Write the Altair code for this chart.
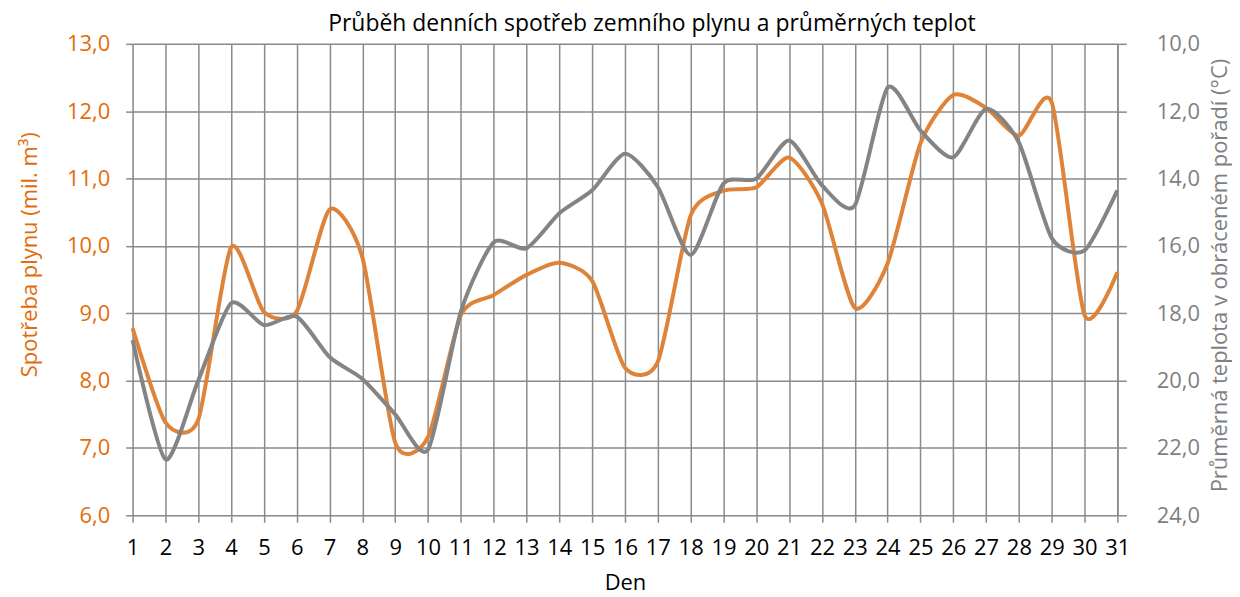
import altair as alt
import pandas as pd

days = list(range(1, 32))
gas = [8.78, 7.38, 7.42, 9.98, 9.02, 9.03, 10.54, 9.83, 7.08, 7.16,
       8.97, 9.27, 9.57, 9.75, 9.48, 8.19, 8.28, 10.45, 10.82, 10.87,
       11.31, 10.63, 9.08, 9.74, 11.52, 12.24, 12.05, 11.64, 12.13, 8.97, 9.61]
temp = [18.8, 22.34, 20.0, 17.7, 18.35, 18.1, 19.3, 19.95, 21.0, 22.05,
        17.95, 15.9, 16.07, 15.03, 14.35, 13.26, 14.25, 16.27, 14.15, 14.0,
        12.87, 14.2, 14.8, 11.3, 12.57, 13.37, 11.93, 12.93, 15.77, 16.13, 14.35]

gas_ticks = [6, 7, 8, 9, 10, 11, 12, 13]
temp_ticks = [10, 12, 14, 16, 18, 20, 22, 24]

df = pd.DataFrame({"den": days, "plyn": gas, "teplota": temp})

FONT = "Open Sans"
FS = 22
ORANGE_TXT = "#E36C0A"
ORANGE_LINE = "#DF8338"
GRAY_LINE = "#848484"
GRID = "#8A8A8A"
GRAY_TXT = "#7F7F7F"
TENSION = 0.3

fmt = "replace(format(datum.value, '.1f'), '.', ',')"

x = alt.X(
    "den:Q",
    scale=alt.Scale(domain=[1, 31], nice=False, zero=False),
    axis=alt.Axis(
        values=days, title="Den", format="d", grid=True, gridColor=GRID,
        gridWidth=1.5, domain=False, ticks=True, tickColor=GRID, tickWidth=1.5,
        tickSize=7, labelFont=FONT, labelFontSize=FS, labelColor="#000000",
        labelPadding=15, labelFlush=False, titleFont=FONT, titleFontSize=FS,
        titleFontWeight="normal", titleColor="#000000", titlePadding=14,
    ),
)

gas_line = alt.Chart(df).mark_line(
    interpolate="cardinal", tension=TENSION, color=ORANGE_LINE, strokeWidth=4
).encode(
    x=x,
    y=alt.Y(
        "plyn:Q",
        scale=alt.Scale(domain=[6, 13], nice=False, zero=False),
        axis=alt.Axis(
            orient="left", values=gas_ticks, labelExpr=fmt,
            title="Spotřeba plynu (mil. m³)", grid=True, gridColor=GRID,
            gridWidth=1.5, domain=False, tickColor=GRID, tickWidth=1.5,
            tickSize=7, labelFont=FONT, labelFontSize=FS,
            labelColor=ORANGE_TXT, labelPadding=16, titleFont=FONT,
            titleFontSize=FS, titleFontWeight="normal", titleColor=ORANGE_TXT,
            titleAngle=270, titleBaseline="middle", titleX=-103, titleY=211,
        ),
    ),
)

temp_line = alt.Chart(df).mark_line(
    interpolate="cardinal", tension=TENSION, color=GRAY_LINE, strokeWidth=4
).encode(
    x=x,
    y=alt.Y(
        "teplota:Q",
        scale=alt.Scale(domain=[10, 24], nice=False, zero=False, reverse=True),
        axis=alt.Axis(
            orient="right", values=temp_ticks, labelExpr=fmt,
            title="Průměrná teplota v obráceném pořadí (°C)", grid=False,
            domain=True, domainColor=GRID, domainWidth=1.5, tickColor=GRID,
            tickWidth=1.5, tickSize=9, labelFont=FONT, labelFontSize=FS,
            labelColor=GRAY_TXT, labelPadding=30, titleFont=FONT,
            titleFontSize=FS, titleFontWeight="normal", titleColor=GRAY_TXT,
            titleAngle=270, titleBaseline="middle", titleX=102, titleY=232,
        ),
    ),
)

chart = (
    alt.layer(gas_line, temp_line)
    .resolve_scale(y="independent")
    .properties(
        width=988,
        height=473,
        autosize=alt.AutoSizeParams(type="none"),
        padding={"left": 125, "top": 35, "right": 115, "bottom": 81},
        title=alt.TitleParams(
            "Průběh denních spotřeb zemního plynu a průměrných teplot",
            font=FONT, fontSize=23, fontWeight="normal", color="#000000",
            anchor="middle", dx=27, offset=-3,
        ),
    )
    .configure_view(stroke=None)
    .configure(background="#FFFFFF")
)

chart.save("out.html", embed_options={"renderer": "svg", "actions": False})
